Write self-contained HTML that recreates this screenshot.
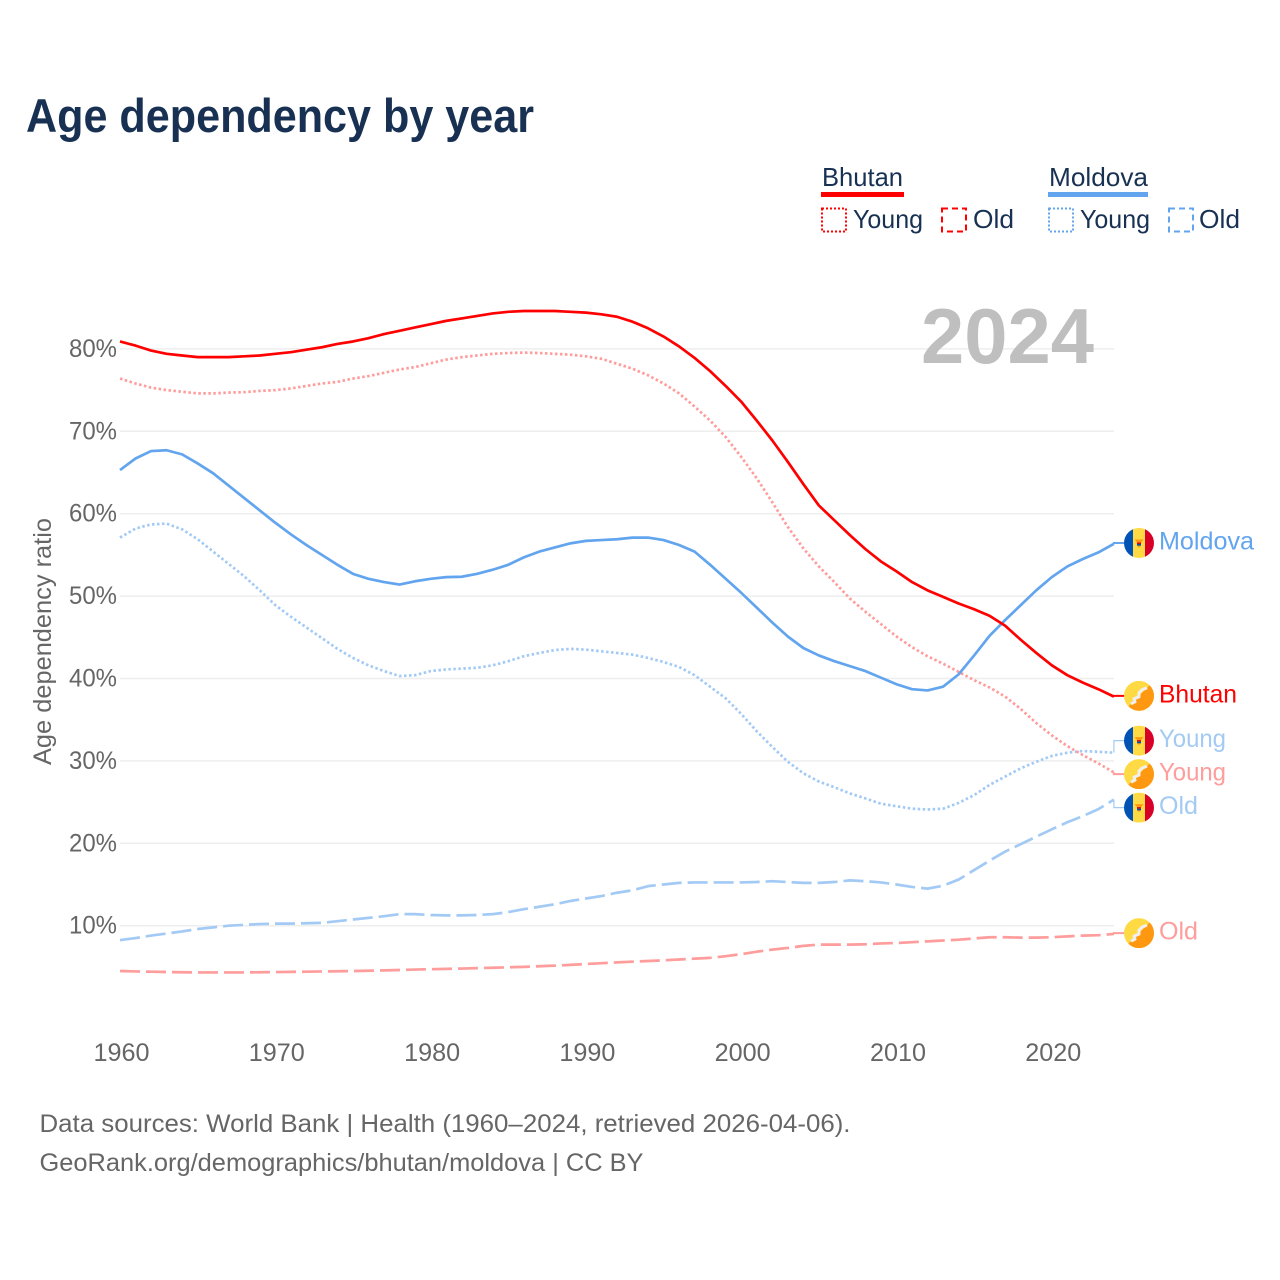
<!DOCTYPE html>
<html lang="en">
<head>
<meta charset="utf-8">
<title>Age dependency by year</title>
<style>
html,body{margin:0;padding:0;background:#fff;width:1280px;height:1280px;overflow:hidden}
svg{display:block}
text{font-family:"Liberation Sans",sans-serif}
</style>
</head>
<body>
<svg id="chart" xmlns="http://www.w3.org/2000/svg" width="1280" height="1280" viewBox="0 0 1280 1280">
  <defs>
    <clipPath id="flag-clip"><circle cx="0" cy="0" r="15"/></clipPath>
    <symbol id="flag-bhutan" viewBox="-15 -15 30 30" overflow="visible">
      <g clip-path="url(#flag-clip)">
        <rect x="-15" y="-15" width="30" height="30" fill="#ffda44"/>
        <path d="M-15 15L15 -15V15Z" fill="#ff9811"/>
        <path d="M-8 8L-4 6L-5 3L0 1L0 -3L3 -6L8 -8" fill="none" stroke="#f0f0f0" stroke-width="3" stroke-linejoin="round"/>
      </g>
    </symbol>
    <symbol id="flag-moldova" viewBox="-15 -15 30 30" overflow="visible">
      <g clip-path="url(#flag-clip)">
        <rect x="-15" y="-15" width="9" height="30" fill="#0052b4"/>
        <rect x="-6" y="-15" width="12" height="30" fill="#ffda44"/>
        <rect x="6" y="-15" width="9" height="30" fill="#d80027"/>
        <path d="M-4.5 -3.5H4.5L2 -0.5H-2Z" fill="#ff9811"/>
        <rect x="-2" y="-0.5" width="4" height="1.6" fill="#d80027"/>
        <rect x="-2" y="1" width="4" height="1.8" fill="#0052b4"/>
        <path d="M-1.5 2.8H1.5L0 4.8Z" fill="#ff9811"/>
      </g>
    </symbol>
  </defs>

  <text x="26" y="132" font-size="47" font-weight="700" fill="#183153" textLength="508" lengthAdjust="spacingAndGlyphs">Age dependency by year</text>

  <g font-size="26" fill="#183153">
    <text x="822" y="186" textLength="81" lengthAdjust="spacingAndGlyphs">Bhutan</text>
    <rect x="821" y="192" width="83" height="5" fill="#ff0000"/>
    <rect x="822" y="208.5" width="24" height="23" fill="none" stroke="#ff0000" stroke-width="2" stroke-dasharray="2 2"/>
    <text x="853" y="228" textLength="70" lengthAdjust="spacingAndGlyphs">Young</text>
    <rect x="942" y="208.5" width="24" height="23" fill="none" stroke="#ff0000" stroke-width="2" stroke-dasharray="6 4"/>
    <text x="973" y="228" textLength="41" lengthAdjust="spacingAndGlyphs">Old</text>
    <text x="1049" y="186" textLength="99" lengthAdjust="spacingAndGlyphs">Moldova</text>
    <rect x="1048" y="192" width="100" height="5" fill="#62a5ee"/>
    <rect x="1049" y="208.5" width="24" height="23" fill="none" stroke="#62a5ee" stroke-width="2" stroke-dasharray="2 2"/>
    <text x="1080" y="228" textLength="70" lengthAdjust="spacingAndGlyphs">Young</text>
    <rect x="1169" y="208.5" width="24" height="23" fill="none" stroke="#62a5ee" stroke-width="2" stroke-dasharray="6 4"/>
    <text x="1199" y="228" textLength="41" lengthAdjust="spacingAndGlyphs">Old</text>
  </g>

  <g id="grid"></g>
  <text x="921" y="363" font-size="78" font-weight="700" fill="#bfbfbf" textLength="173" lengthAdjust="spacingAndGlyphs">2024</text>
  <g id="y-axis"></g>
  <g id="x-axis"></g>
  <text x="0" y="0" transform="translate(51,641.5) rotate(-90)" text-anchor="middle" font-size="25" fill="#666666" textLength="247" lengthAdjust="spacingAndGlyphs">Age dependency ratio</text>
  <g id="series"></g>
  <g id="labels"></g>

  <g font-size="25" fill="#666666">
    <text x="39.5" y="1132" textLength="811" lengthAdjust="spacingAndGlyphs">Data sources: World Bank | Health (1960–2024, retrieved 2026-04-06).</text>
    <text x="39.5" y="1171" textLength="604" lengthAdjust="spacingAndGlyphs">GeoRank.org/demographics/bhutan/moldova | CC BY</text>
  </g>
</svg>

<script>
const startYear = 1960;
const xTickYears = [1960, 1970, 1980, 1990, 2000, 2010, 2020];
const yTickValues = [10, 20, 30, 40, 50, 60, 70, 80];

const bhutanTotal = [
  80.9,80.4,79.8,79.4,79.2,79.0,79.0,79.0,79.1,79.2,
  79.4,79.6,79.9,80.2,80.6,80.9,81.3,81.8,82.2,82.6,
  83.0,83.4,83.7,84.0,84.3,84.5,84.6,84.6,84.6,84.5,
  84.4,84.2,83.9,83.3,82.5,81.5,80.3,78.9,77.3,75.5,
  73.6,71.3,68.9,66.3,63.6,61.0,59.2,57.4,55.7,54.2,
  53.0,51.7,50.7,49.9,49.1,48.4,47.6,46.4,44.7,43.1,
  41.6,40.4,39.5,38.7,37.8
];
const bhutanYoung = [
  76.4,75.8,75.3,75.0,74.8,74.6,74.6,74.7,74.75,74.9,
  75.0,75.2,75.5,75.8,76.0,76.4,76.7,77.1,77.5,77.8,
  78.25,78.7,79.0,79.2,79.4,79.5,79.55,79.5,79.4,79.3,
  79.1,78.8,78.2,77.6,76.8,75.8,74.6,73.0,71.3,69.3,
  66.9,64.3,61.4,58.4,55.8,53.6,51.7,49.7,48.1,46.6,
  45.1,43.8,42.7,41.8,40.8,39.8,38.9,37.8,36.3,34.6,
  33.1,31.8,30.7,29.7,28.6
];
const bhutanOld = [
  4.5,4.45,4.42,4.38,4.35,4.33,4.33,4.33,4.33,4.35,
  4.37,4.4,4.42,4.45,4.47,4.5,4.53,4.58,4.62,4.68,
  4.72,4.76,4.8,4.85,4.9,4.95,5.0,5.08,5.15,5.25,
  5.35,5.45,5.55,5.63,5.72,5.8,5.9,6.0,6.1,6.3,
  6.55,6.85,7.1,7.3,7.55,7.7,7.7,7.7,7.75,7.85,
  7.9,8.0,8.1,8.2,8.3,8.45,8.6,8.6,8.55,8.55,
  8.6,8.7,8.8,8.85,9.0
];
const moldovaTotal = [
  65.3,66.7,67.6,67.7,67.2,66.1,64.9,63.4,61.9,60.4,
  58.9,57.5,56.2,55.0,53.8,52.7,52.1,51.7,51.4,51.8,
  52.1,52.3,52.35,52.7,53.2,53.8,54.7,55.4,55.9,56.4,
  56.7,56.8,56.9,57.1,57.1,56.8,56.2,55.4,53.8,52.1,
  50.4,48.6,46.8,45.1,43.7,42.8,42.1,41.5,40.9,40.1,
  39.3,38.7,38.55,39.0,40.5,42.8,45.2,47.1,48.9,50.7,
  52.3,53.6,54.5,55.3,56.35
];
const moldovaYoung = [
  57.1,58.2,58.7,58.8,58.1,56.9,55.4,53.9,52.4,50.7,
  48.9,47.5,46.2,44.9,43.6,42.5,41.6,40.9,40.3,40.4,
  40.9,41.1,41.2,41.3,41.6,42.1,42.7,43.1,43.45,43.6,
  43.5,43.3,43.1,42.9,42.5,42.0,41.4,40.4,39.0,37.6,
  35.7,33.6,31.7,29.9,28.5,27.5,26.8,26.05,25.45,24.8,
  24.5,24.2,24.1,24.2,24.9,25.85,27.1,28.1,29.1,29.9,
  30.6,31.0,31.2,31.1,31.0
];
const moldovaOld = [
  8.25,8.5,8.8,9.05,9.3,9.6,9.8,10.0,10.1,10.2,
  10.25,10.25,10.3,10.35,10.55,10.75,10.95,11.15,11.4,11.4,
  11.3,11.25,11.25,11.3,11.4,11.65,12.0,12.3,12.6,13.0,
  13.3,13.6,14.0,14.3,14.8,15.0,15.2,15.25,15.25,15.25,
  15.25,15.3,15.4,15.3,15.2,15.2,15.3,15.5,15.4,15.25,
  15.0,14.7,14.5,14.85,15.6,16.75,17.9,19.0,19.9,20.8,
  21.7,22.55,23.3,24.15,25.3
];

function xScale(year) { return 120 + (year - startYear) * 15.53; }
function yScale(value) { return 1008.1 - value * 8.24; }

const NS = 'http://www.w3.org/2000/svg';
function mk(tag, parent, attrs, txt) {
  const el = document.createElementNS(NS, tag);
  for (const k in attrs) el.setAttribute(k, attrs[k]);
  if (txt !== undefined) el.textContent = txt;
  parent.appendChild(el);
  return el;
}

const gridG = document.getElementById('grid');
const yAxisG = document.getElementById('y-axis');
const xAxisG = document.getElementById('x-axis');
const seriesG = document.getElementById('series');
const labelsG = document.getElementById('labels');

yTickValues.forEach(function (v) {
  const line = mk('line', gridG, {x1: 120, x2: 1114, y1: yScale(v), y2: yScale(v), stroke: '#eeeeee', 'stroke-width': 1.5});
  
  
  const label = mk('text', yAxisG, {x: 117, y: yScale(v) + 8, 'text-anchor': 'end', 'font-size': 25, fill: '#666666', textLength: 48, lengthAdjust: 'spacingAndGlyphs'}, v + '%');
  
  
});

xTickYears.forEach(function (yr) {
  const label = mk('text', xAxisG, {x: xScale(yr) + 1.5, y: 1061, 'text-anchor': 'middle', 'font-size': 25, fill: '#666666', textLength: 56, lengthAdjust: 'spacingAndGlyphs'}, String(yr));
  
  
});

const DOT = '2.5 2.5';
const DASH = '20 6';
const RED = '#ff0000', RED_L = '#ff9c9c', BLUE = '#62a5ee', BLUE_L = '#a3caf5';

function drawSeries(values, color, dash, name) {
  const pts = values.map(function (v, i) { return xScale(startYear + i).toFixed(2) + ',' + yScale(v).toFixed(2); }).join(' ');
  const line = mk('polyline', seriesG, {points: pts, fill: 'none', stroke: color, 'stroke-width': 2.7, 'stroke-linejoin': 'round'});
  if (dash) line.setAttribute('stroke-dasharray', dash);
  
  
}

drawSeries(moldovaOld, BLUE_L, DASH, 'moldova-old-line');
drawSeries(bhutanOld, RED_L, DASH, 'bhutan-old-line');
drawSeries(moldovaYoung, BLUE_L, DOT, 'moldova-young-line');
drawSeries(bhutanYoung, RED_L, DOT, 'bhutan-young-line');
drawSeries(moldovaTotal, BLUE, null, 'moldova-total-line');
drawSeries(bhutanTotal, RED, null, 'bhutan-total-line');

/* end labels, dodged so that neighbours keep a minimum gap */
const endItems = [
  {values: moldovaTotal, text: 'Moldova', color: BLUE, flag: 'flag-moldova', width: 95},
  {values: bhutanTotal, text: 'Bhutan', color: RED, flag: 'flag-bhutan', width: 78},
  {values: moldovaYoung, text: 'Young', color: BLUE_L, flag: 'flag-moldova', width: 67},
  {values: bhutanYoung, text: 'Young', color: RED_L, flag: 'flag-bhutan', width: 67},
  {values: moldovaOld, text: 'Old', color: BLUE_L, flag: 'flag-moldova', width: 39},
  {values: bhutanOld, text: 'Old', color: RED_L, flag: 'flag-bhutan', width: 39}
];
endItems.forEach(function (it) { it.dataY = yScale(it.values[it.values.length - 1]); });
const sorted = endItems.slice().sort(function (a, b) { return a.dataY - b.dataY; });
const GAP = 33.5;
let clusters = sorted.map(function (it) { return {items: [it], center: it.dataY}; });
let merged = true;
while (merged) {
  merged = false;
  for (let i = 0; i < clusters.length - 1; i++) {
    const a = clusters[i], b = clusters[i + 1];
    const aBottom = a.center + (a.items.length - 1) * GAP / 2;
    const bTop = b.center - (b.items.length - 1) * GAP / 2;
    if (bTop - aBottom < GAP) {
      const items = a.items.concat(b.items);
      const center = items.reduce(function (s, t) { return s + t.dataY; }, 0) / items.length;
      clusters.splice(i, 2, {items: items, center: center});
      merged = true;
      break;
    }
  }
}
clusters.forEach(function (c) {
  c.items.forEach(function (it, i) {
    it.labelY = c.center + (i - (c.items.length - 1) / 2) * GAP - 0.8;
  });
});

endItems.forEach(function (it) {
  const x = xScale(2024);
  const leader = mk('polyline', labelsG, {
    points: x + ',' + it.dataY + ' ' + x + ',' + it.labelY + ' 1124,' + it.labelY,
    fill: 'none', stroke: it.color, 'stroke-width': Math.abs(it.labelY - it.dataY) > 2 ? 1.2 : 2
  });
  
  
  const flag = mk('use', labelsG, {href: '#' + it.flag, x: 1124, y: it.labelY - 15, width: 30, height: 30});
  
  
  const label = mk('text', labelsG, {x: 1159, y: it.labelY + 6.5, 'font-size': 25, fill: it.color, textLength: it.width, lengthAdjust: 'spacingAndGlyphs'}, it.text);
  
  
});
</script>
</body>
</html>
